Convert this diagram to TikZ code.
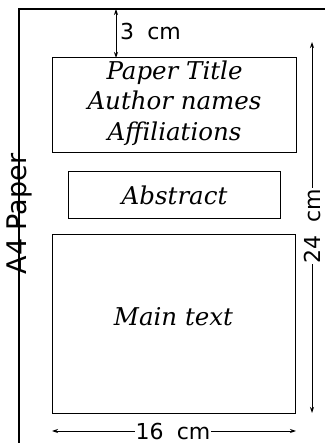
\documentclass[tikz,border=0pt]{standalone}
\usepackage{fontspec}
\setmainfont{DejaVu Serif}
\setsansfont{DejaVu Sans}
\usetikzlibrary{arrows.meta}
\begin{document}
\begin{tikzpicture}[x=1pt,y=1pt,
  box/.style={draw,line width=1.1pt,inner sep=0pt,anchor=south west},
  itl/.style={font=\fontsize{24.5}{30.5}\selectfont\itshape,align=center},
  dim/.style={font=\fontsize{22}{24}\selectfont\sffamily,inner sep=1pt},
  dimarrow/.style={line width=0.9pt,{Stealth[length=6pt,width=4pt]}-{Stealth[length=6pt,width=4pt]}}]
\useasboundingbox (0,0) rectangle (325,443);
% paper
\coordinate (pbl) at (19,0);
\coordinate (ptl) at (19,434);
\coordinate (ptr) at (325,434);
\draw[line width=1.1pt] (pbl) -- (ptl) -- (ptr);
\node[rotate=90,font=\fontsize{27}{29}\selectfont\sffamily,inner sep=0pt] (a4) at (19,229) {A4 Paper};
% boxes
\node[box,minimum width=244pt,minimum height=95pt] (title) at (52,290) {};
\node[itl] (titletext) at ([yshift=2pt]title.center) {Paper Title\\Author names\\Affiliations};
\node[box,minimum width=212pt,minimum height=47pt] (abs) at (68,224) {};
\node[itl] (abstext) at (abs.center) {Abstract};
\node[box,minimum width=243pt,minimum height=179pt] (main) at (52,29) {};
\node[itl] (maintext) at (173.5,126) {Main text};
% 3 cm
\coordinate (t3) at (116,434);
\coordinate (b3) at (116,385);
\draw[dimarrow] (t3) -- (b3);
\node[dim,anchor=west] (l3) at (119,411) {3\hspace{0.6em}cm};
% 24 cm
\coordinate (t24) at (312,401);
\coordinate (b24) at (312,30);
\draw[dimarrow] (t24) -- (b24);
\node[dim,rotate=90,fill=white] (l24) at (312,217) {24\hspace{0.6em}cm};
% 16 cm
\coordinate (l16) at (52,12);
\coordinate (r16) at (296,12);
\draw[dimarrow] (l16) -- (r16);
\node[dim,fill=white] (lab16) at (173,12) {16\hspace{0.6em}cm};
\end{tikzpicture}
\end{document}
